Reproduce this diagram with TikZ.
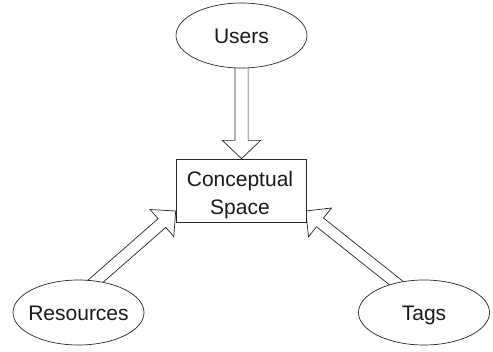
\documentclass[tikz,border=0pt]{standalone}
\usepackage{fontspec}
\setmainfont{Liberation Sans}
\usetikzlibrary{shapes.geometric,calc}
\pgfdeclarelayer{background}
\pgfsetlayers{background,main}
\tikzset{
  oval/.style={ellipse, draw=black!85, line width=0.7pt, fill=white,
    minimum width=131pt, minimum height=65pt, inner sep=0pt,
    text height=15pt, text depth=0pt, text=black!90,
    font=\fontsize{21}{28}\selectfont},
  boxnode/.style={rectangle, draw=black!85, line width=0.7pt, fill=white,
    minimum width=130pt, minimum height=63pt, inner sep=0pt},
  lbl/.style={font=\fontsize{21}{28}\selectfont, align=center, text=black!90, inner sep=0pt},
  blockline/.style={draw=black!85, line width=0.7pt, fill=white, line join=miter}
}
\newcommand\blockarrow[4]{%
  \coordinate (ba-h) at ($(#2)!18.3pt!(#1)$);
  \path[blockline] ($(#1)!#3pt!90:(#2)$) -- ($(ba-h)!#3pt!90:(#2)$)
    -- ($(ba-h)!#4pt!90:(#2)$) -- (#2) -- ($(ba-h)!#4pt!-90:(#2)$)
    -- ($(ba-h)!#3pt!-90:(#2)$) -- ($(#1)!#3pt!-90:(#2)$) -- cycle;}
\begin{document}
\begin{tikzpicture}[x=1pt,y=-1pt]
\useasboundingbox (0,0) rectangle (493,351);
\node[oval] (users) at (241.5,35.5) {\makebox[0pt]{Users}};
\node[oval] (res) at (78.5,312.5) {\makebox[0pt]{Resources}};
\node[oval] (tags) at (424,312.5) {\makebox[0pt]{Tags}};
\node[boxnode] (cs) at (241,190.5) {};
\node[lbl] (cstext) at (240,195.2) {Conceptual\\Space};
\coordinate (utip) at (users.center |- cs.north);
\coordinate (rtail) at (85.5,290);
\coordinate (rtip) at (175.7,211);
\coordinate (ttail) at (405.8,290.7);
\coordinate (ttip) at (305.7,211);
\begin{pgfonlayer}{background}
\blockarrow{users.center}{utip}{6.6}{19.2}
\blockarrow{rtail}{rtip}{5.8}{18}
\blockarrow{ttail}{ttip}{5.6}{18.4}
\end{pgfonlayer}
\end{tikzpicture}
\end{document}
